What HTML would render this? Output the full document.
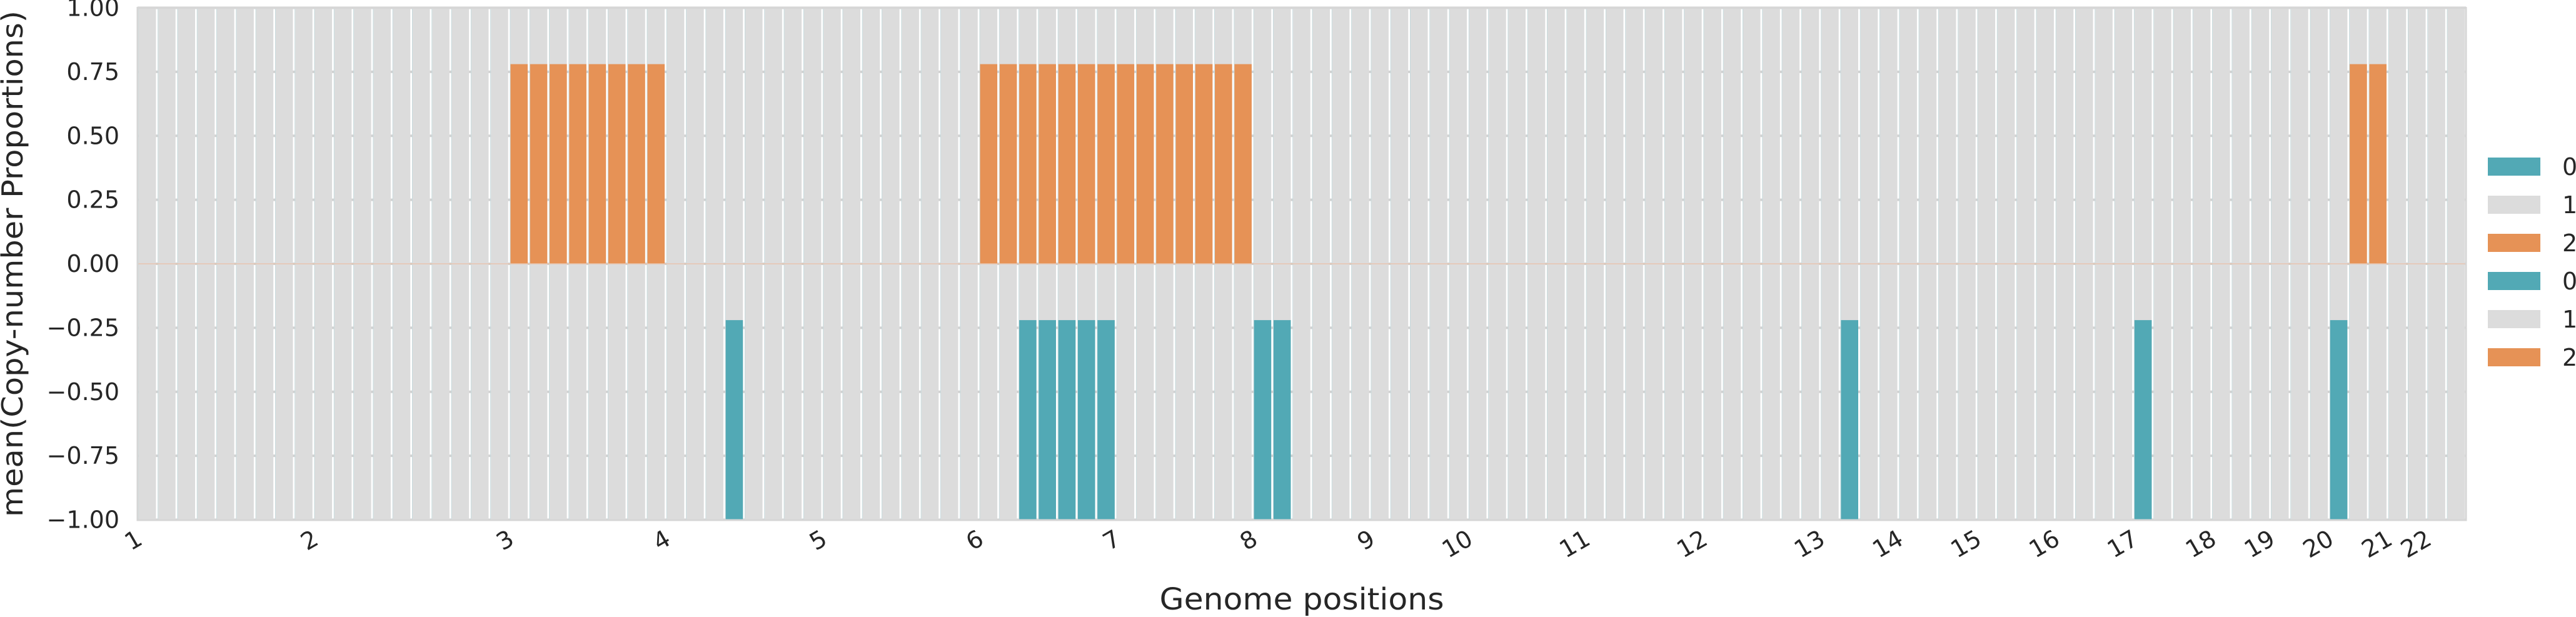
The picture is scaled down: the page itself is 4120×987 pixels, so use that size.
<!DOCTYPE html>
<html><head><meta charset="utf-8"><style>
html,body{margin:0;padding:0;background:#fff;}
svg{display:block;font-family:"DejaVu Sans","Liberation Sans",sans-serif;}
</style></head><body>
<svg id="chart" width="4120" height="987" viewBox="0 0 4120 987" xmlns="http://www.w3.org/2000/svg">
<g id="grid"></g>
<g id="bars"></g>
<g id="yticks"></g>
<g id="xticks"></g>
<rect x="220" y="12.5" width="3724" height="819.5" fill="none" stroke="#d6d6d6" stroke-width="3"/>
<text transform="translate(36,422) rotate(-90)" text-anchor="middle" font-size="46" fill="#262626" textLength="810" lengthAdjust="spacingAndGlyphs">mean(Copy-number Proportions)</text>
<text x="2082" y="975" text-anchor="middle" font-size="48" fill="#262626" textLength="455" lengthAdjust="spacingAndGlyphs">Genome positions</text>
<g id="legend"></g>
</svg>
<script>
const N = 119;
const gainIdx = [19,20,21,22,23,24,25,26,43,44,45,46,47,48,49,50,51,52,53,54,55,56,113,114];
const gainVal = 0.78;
const lossIdx = [30,45,46,47,48,49,57,58,87,102,112];
const lossVal = -0.22;
const chromLabels = ["1","2","3","4","5","6","7","8","9","10","11","12","13","14","15","16","17","18","19","20","21","22"];
const chromStart = [0,9,19,27,35,43,50,57,63,68,74,80,86,90,94,98,102,106,109,112,115,117];
const yTicks = [1,0.75,0.5,0.25,0,-0.25,-0.5,-0.75,-1];
const legendLabels = ["0","1","2","0","1","2"];

const NS="http://www.w3.org/2000/svg";
const X0=220, X1=3944, Y0=12.5, Y1=831.5;
const step=(X1-X0)/N;
const bw=step*0.88;
function xs(i){return X0+step*(i+0.5);}
function ys(v){return Y0+(1-v)/2*(Y1-Y0);}
const GRAY="#dcdcdc", ORANGE="#e69256", TEAL="#52a9b5";
function mk(tag,attrs,parent){const e=document.createElementNS(NS,tag);for(const k in attrs)e.setAttribute(k,attrs[k]);parent.appendChild(e);return e;}
const grid=document.getElementById('grid'),bars=document.getElementById('bars'),yt=document.getElementById('yticks'),xt=document.getElementById('xticks'),lg=document.getElementById('legend');

yTicks.forEach(v=>{
  const l=mk('line',{x1:X0,x2:X1,y1:ys(v),y2:ys(v),stroke:"#d2d2d2","stroke-width":4},grid);
  
  
  const t=mk('text',{x:191,y:ys(v),"text-anchor":"end","dominant-baseline":"central","font-size":38,fill:"#262626"},yt);
  t.textContent=(v<0?"\u2212":"")+Math.abs(v).toFixed(2);
  
  
});
for(let i=0;i<N;i++){
  const r=mk('rect',{x:xs(i)-bw/2,y:ys(1),width:bw,height:ys(-1)-ys(1),fill:GRAY},bars);
  
  
  const e=mk('line',{x1:xs(i)-bw/2-0.5,x2:xs(i)-bw/2-0.5,y1:ys(1),y2:ys(-1),stroke:"#c6dadd","stroke-width":1},bars);
  
  
}
gainIdx.forEach(i=>{
  const r=mk('rect',{x:xs(i)-bw/2,y:ys(gainVal),width:bw,height:ys(0)-ys(gainVal),fill:ORANGE},bars);
  
  
});
lossIdx.forEach(i=>{
  const r=mk('rect',{x:xs(i)-bw/2,y:ys(lossVal),width:bw,height:ys(-1)-ys(lossVal),fill:TEAL},bars);
  
  
});
const zl=mk('line',{x1:X0,x2:X1,y1:ys(0),y2:ys(0),stroke:"#e8c4ae","stroke-width":1.5},bars);



chromLabels.forEach((lab,k)=>{
  const x=xs(chromStart[k])-12;
  const t=mk('text',{transform:`translate(${x},858) rotate(-30)`,"text-anchor":"end","dominant-baseline":"central","font-size":38,fill:"#262626"},xt);
  t.textContent=lab;
  
  
});
const lcol=[TEAL,GRAY,ORANGE,TEAL,GRAY,ORANGE];
legendLabels.forEach((lab,k)=>{
  const y=252+k*61;
  const r=mk('rect',{x:3979,y:y,width:84,height:29,fill:lcol[k]},lg);
  
  
  const t=mk('text',{x:4098,y:y+15,"dominant-baseline":"central","font-size":38,fill:"#262626"},lg);
  t.textContent=lab;
  
  
});
</script>
</body></html>
